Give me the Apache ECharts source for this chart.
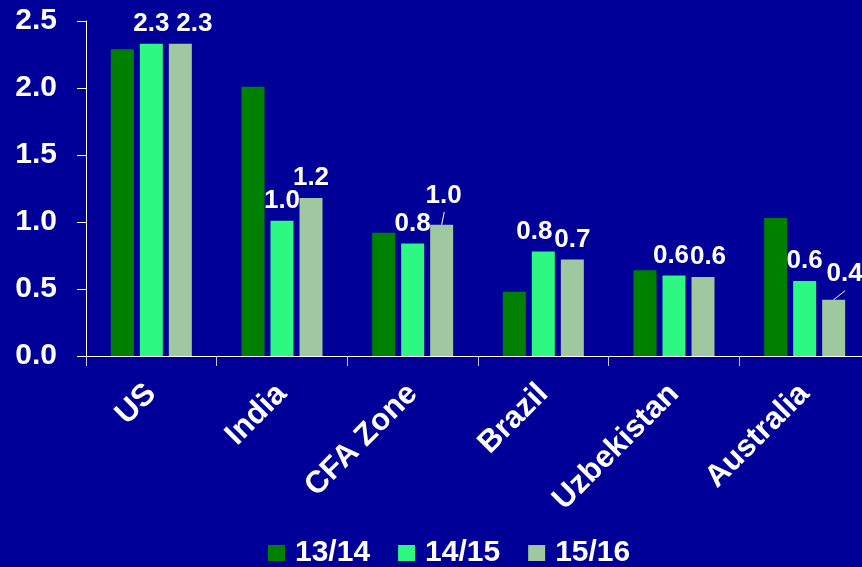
<!DOCTYPE html>
<html>
<head>
<meta charset="utf-8">
<script src="https://cdn.jsdelivr.net/npm/echarts@6/dist/echarts.min.js"></script>
<style>
  html, body { margin: 0; padding: 0; background: #000099; }
  #chart { width: 862px; height: 567px; }
</style>
</head>
<body>
<div id="chart"></div>
<script>
// Categories and crop-year series
const countries = ['US', 'India', 'CFA Zone', 'Brazil', 'Uzbekistan', 'Australia'];
const seasonNames = ['13/14', '14/15', '15/16'];
const values1314 = [2.29, 2.01, 0.92, 0.48, 0.64, 1.03];
const values1415 = [2.33, 1.01, 0.84, 0.78, 0.60, 0.56];
const values1516 = [2.33, 1.18, 0.98, 0.72, 0.59, 0.42];
const yTicks = [0, 0.5, 1.0, 1.5, 2.0, 2.5];

// Label nudges [dx, dy] so neighbouring value labels stay readable
const nudge1415 = [[0, 0], [0, 0], [0, 0], [-9, 0], [-3, 0], [0, 0]];
const nudge1516 = [[14, 0], [0, 0], [2, -9], [0, 0], [5, 0], [11, -6]];
// Short leader strokes [dx, dy] from the bar top to a lifted label
const leader1516 = [null, null, [2.6, -12.7], null, null, [11.4, -9]];

const FONT = '"Liberation Sans", Arial, sans-serif';
const colors = ['#008000', '#2CF882', '#A0C8A0'];
const BAR_W = 23;
const BAR_GAP = 6;

function makeLayout(nudges) {
  return function (params) {
    const n = nudges[params.dataIndex] || [0, 0];
    return { dx: n[0], dy: n[1] };
  };
}

const valueLabel = {
  show: true,
  position: 'top',
  distance: 7,
  color: '#ffffff',
  fontFamily: FONT,
  fontWeight: 'bold',
  fontSize: 26,
  formatter: p => p.value.toFixed(1)
};

// Leader lines sit on the third bar of each group: one bar width plus a gap
// to the right of the category centre.
const leaderData = values1516
  .map((v, i) => [i, v])
  .filter(d => leader1516[d[0]]);

function renderLeader(params, api) {
  const idx = api.value(0);
  const top = api.coord([idx, api.value(1)]);
  const off = leader1516[idx];
  const x0 = top[0] + BAR_W + BAR_GAP;
  const y0 = top[1];
  return {
    type: 'line',
    shape: { x1: x0, y1: y0, x2: x0 + off[0], y2: y0 + off[1] },
    style: { stroke: '#ffffff', lineWidth: 1 },
    silent: true
  };
}

const chart = echarts.init(document.getElementById('chart'), null, { renderer: 'canvas' });
chart.setOption({
  backgroundColor: '#000099',
  animation: false,
  color: colors,
  textStyle: { fontFamily: FONT },
  grid: { left: 86, top: 21, bottom: 211, width: 784, containLabel: false, outerBoundsMode: 'none' },
  legend: {
    data: seasonNames,
    left: 263,
    top: 533,
    itemWidth: 17,
    itemHeight: 16,
    itemGap: 28,
    icon: 'rect',
    textStyle: { color: '#ffffff', fontSize: 30, fontWeight: 'bold', fontFamily: FONT, padding: [0, 0, 0, 5] }
  },
  xAxis: {
    type: 'category',
    data: countries,
    axisLine: { lineStyle: { color: '#ffffff', width: 1 } },
    axisTick: { show: true, length: 10, lineStyle: { color: '#c8c8e8' } },
    axisLabel: {
      rotate: 45,
      margin: 33,
      color: '#ffffff',
      fontSize: 31,
      fontWeight: 'bold',
      fontFamily: FONT,
      interval: 0
    }
  },
  yAxis: {
    type: 'value',
    min: yTicks[0],
    max: yTicks[yTicks.length - 1],
    interval: 0.5,
    splitLine: { show: false },
    axisLine: { show: true, lineStyle: { color: '#ffffff', width: 1 } },
    axisTick: { show: true, length: 9, lineStyle: { color: '#ffffff' } },
    axisLabel: {
      margin: 29,
      color: '#ffffff',
      fontSize: 30,
      fontWeight: 'bold',
      fontFamily: FONT,
      formatter: v => v.toFixed(1)
    }
  },
  series: [
    {
      name: seasonNames[0],
      type: 'bar',
      data: values1314,
      barWidth: BAR_W,
      barGap: (BAR_GAP / BAR_W * 100) + '%',
      itemStyle: { color: colors[0] }
    },
    {
      name: seasonNames[1],
      type: 'bar',
      data: values1415,
      barWidth: BAR_W,
      barGap: (BAR_GAP / BAR_W * 100) + '%',
      itemStyle: { color: colors[1] },
      label: valueLabel,
      labelLayout: makeLayout(nudge1415)
    },
    {
      name: seasonNames[2],
      type: 'bar',
      data: values1516,
      barWidth: BAR_W,
      barGap: (BAR_GAP / BAR_W * 100) + '%',
      itemStyle: { color: colors[2] },
      label: valueLabel,
      labelLayout: makeLayout(nudge1516)
    },
    {
      type: 'custom',
      name: 'leaders',
      data: leaderData,
      renderItem: renderLeader,
      z: 5,
      silent: true,
      tooltip: { show: false }
    }
  ]
});
</script>
</body>
</html>
